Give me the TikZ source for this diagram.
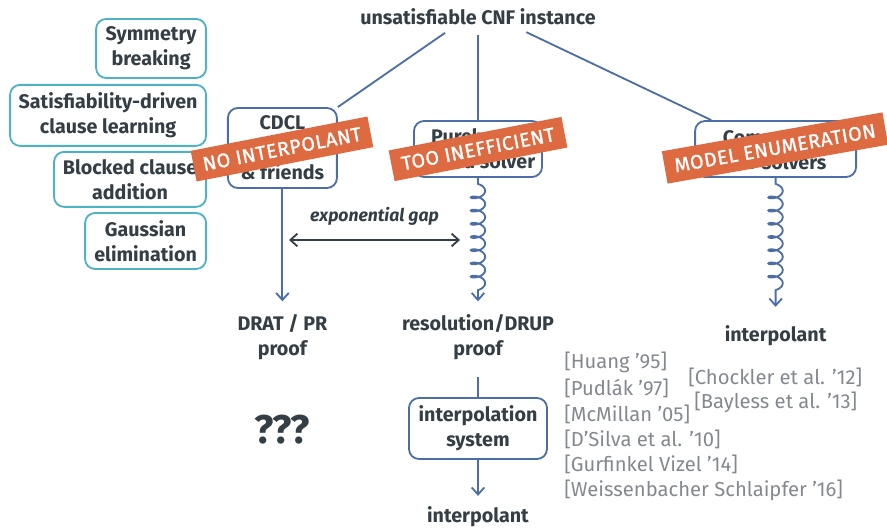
\documentclass[tikz,border=0pt]{standalone}
\usepackage{fontspec}
\usetikzlibrary{decorations.pathmorphing,arrows.meta}
\newfontfamily\firaplain{Fira Sans}
\newfontfamily\firastamp{Fira Sans}[LetterSpace=3,FakeBold=1.2]
\newcommand{\boxtextfont}{\firaplain\bfseries\fontsize{14}{17.8}\selectfont}
\newcommand{\stamptextfont}{\firastamp\fontsize{14}{15}\selectfont}
\newcommand{\citetextfont}{\firaplain\fontsize{14.4}{17.8}\selectfont}
\definecolor{inkdark}{HTML}{333E45}
\definecolor{solverblue}{HTML}{4C6EA6}
\definecolor{techteal}{HTML}{4CB2C4}
\definecolor{stampred}{HTML}{DD6A40}
\definecolor{citegrey}{HTML}{83898E}
\tikzset{
  solver/.style={draw=solverblue, line width=1.3pt, rounded corners=0.25cm, align=center, text=inkdark, font=\boxtextfont, inner sep=0.05cm},
  technique/.style={draw=techteal, line width=1.3pt, rounded corners=0.25cm, align=center, text=inkdark, font=\boxtextfont, anchor=east, inner sep=0.05cm},
  result/.style={align=center, text=inkdark, font=\boxtextfont},
  stamp/.style={fill=stampred, text=white, font=\stamptextfont, minimum height=0.78cm},
  cite/.style={anchor=west, text=citegrey, font=\citetextfont, inner sep=0pt},
  link/.style={draw=solverblue, line width=1.3pt},
  barb/.style={-{Straight Barb[length=5pt,width=9pt]}},
  coilarrow/.style={link, barb, decorate, decoration={coil, amplitude=0.18cm, segment length=0.33cm, pre length=0.15cm, post length=0.45cm}},
  gaparrow/.style={draw=inkdark, line width=1.3pt, {Straight Barb[length=5pt,width=9pt]}-{Straight Barb[length=5pt,width=9pt]}},
}

\begin{document}
\begin{tikzpicture}
\useasboundingbox (0,0) rectangle (22.175,13.225);
\node[result] (cnf) at (11.95,12.8) {unsatisfiable CNF instance};
\node[technique, minimum width=2.75cm, minimum height=1.475cm] (symm) at (5.175,12.0125) {Symmetry\\breaking};
\node[technique, minimum width=4.9cm, minimum height=1.525cm] (sdcl) at (5.175,10.34) {Satisfiability-driven\\clause learning};
\node[technique, minimum width=3.8cm, minimum height=1.375cm] (bca) at (5.175,8.74) {Blocked clause\\addition};
\node[technique, minimum width=3.025cm, minimum height=1.4cm] (gauss) at (5.175,7.2) {Gaussian\\elimination};
\node[solver, minimum width=2.725cm, minimum height=2.0cm] (cdcl) at (7.06,9.525) {CDCL\\solvers\\\& friends};
\node[solver, minimum width=3.2cm, minimum height=1.4cm] (pure) at (11.95,9.5) {Purely res.\\based solver};
\node[solver, minimum width=4.025cm, minimum height=1.4cm] (comm) at (19.39,9.5) {Commercial\\SAT solvers};
\node[result] (drat) at (7.06,4.8) {DRAT / PR\\proof};
\node[result] (resdrup) at (11.95,4.8) {resolution/DRUP\\proof};
\node[result] (commitp) at (19.39,4.825) {interpolant};
\node[result, font=\firaplain\bfseries\fontsize{28.5}{32}\selectfont] (unknown) at (7.06,2.475) {???};
\node[solver, minimum width=3.45cm, minimum height=1.525cm] (interpsys) at (11.95,2.5125) {interpolation\\system};
\node[result] (finalitp) at (11.95,0.3) {interpolant};
\draw[link, shorten <=0.12cm] ([xshift=-0.725cm]cnf.south) -- (cdcl.north east);
\draw[link, shorten <=0.12cm] (cnf.south) -- (pure.north);
\draw[link, shorten <=0.12cm] ([xshift=1.1cm]cnf.south) -- ([xshift=0.425cm]comm.north west);
\draw[link, barb, shorten >=0.2cm] (cdcl.south) -- (drat.north);
\draw[coilarrow, shorten >=0.2cm] (pure.south) -- (resdrup.north);
\draw[coilarrow, shorten >=0.35cm] (comm.south) -- (commitp.north);
\draw[link, shorten <=0.3cm] (resdrup.south) -- (interpsys.north);
\draw[link, barb, shorten >=0.15cm] (interpsys.south) -- (finalitp.north);
\coordinate (gapleft) at (7.225,7.225);
\coordinate (gapright) at (11.5,7.225);
\draw[gaparrow] (gapleft) -- node[above=0.22cm, text=inkdark, font=\firaplain\bfseries\itshape\fontsize{12.5}{14}\selectfont] (gaplabel) {exponential gap} (gapright);
\node[cite] (huang) at (14.1,4.175) {[Huang ’95]};
\node[cite] (pudlak) at (14.1,3.525) {[Pudlák ’97]};
\node[cite] (mcmillan) at (14.1,2.875) {[McMillan ’05]};
\node[cite] (dsilva) at (14.1,2.25) {[D’Silva et al. ’10]};
\node[cite] (gurfinkel) at (14.1,1.625) {[Gurfinkel Vizel ’14]};
\node[cite] (weissen) at (14.1,0.975) {[Weissenbacher Schlaipfer ’16]};
\node[cite] (chockler) at (17.2,3.8) {[Chockler et al. ’12]};
\node[cite] (bayless) at (17.35,3.175) {[Bayless et al. ’13]};
\node[stamp, rotate=11, minimum width=4.5cm] (nointerp) at (7.05,9.5) {NO INTERPOLANT};
\node[stamp, rotate=11, minimum width=4.4cm] (tooslow) at (11.95,9.5) {TOO INEFFICIENT};
\node[stamp, rotate=10, minimum width=5.6cm, minimum height=0.82cm] (modelenum) at (19.375,9.525) {MODEL ENUMERATION};
\end{tikzpicture}
\end{document}
